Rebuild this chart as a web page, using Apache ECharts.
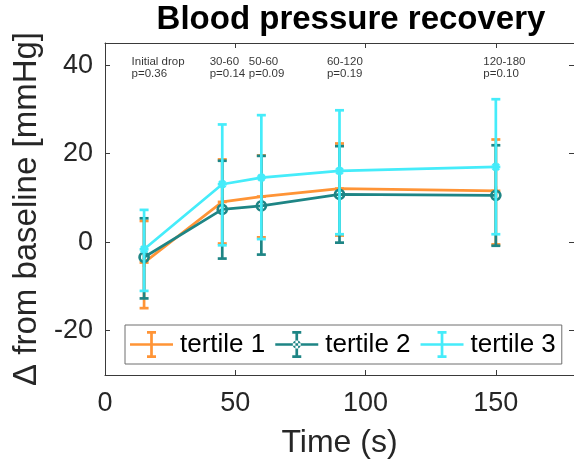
<!DOCTYPE html>
<html>
<head>
<meta charset="utf-8">
<script src="https://cdn.jsdelivr.net/npm/echarts@6/dist/echarts.min.js"></script>
<style>
  html, body { margin: 0; padding: 0; background: #fff; }
  #chart { width: 574px; height: 466px; }
</style>
</head>
<body>
<div id="chart"></div>
<script>
// Time points (s) at which the recovery was sampled
const times = [15, 45, 60, 90, 150];

// Tertile 1
const t1Mean  = [-4.6, 9.1, 10.3, 12.1, 11.6];
const t1Lower = [-14.9, -0.3, 1.1, 1.5, -0.5];
const t1Upper = [4.8, 18.7, 19.6, 22.3, 23.2];

// Tertile 2
const t2Mean  = [-3.4, 7.4, 8.2, 10.8, 10.6];
const t2Lower = [-12.7, -3.7, -2.8, -0.1, -0.8];
const t2Upper = [5.4, 18.4, 19.5, 21.7, 21.9];

// Tertile 3
const t3Mean  = [-1.6, 13.1, 14.6, 16.1, 17.0];
const t3Lower = [-11.0, -0.7, 0.7, 1.8, 1.8];
const t3Upper = [7.3, 26.6, 28.7, 29.8, 32.3];

const seriesNames = ['tertile 1', 'tertile 2', 'tertile 3'];

// Interval annotations with their p-values
const annotX = [10, 40, 55, 85, 145];
const annotY = [39.4, 39.4, 39.4, 39.4, 39.4];
const annotLabels = ['Initial drop', '30-60', '50-60', '60-120', '120-180'];
const annotP = ['p=0.36', 'p=0.14', 'p=0.09', 'p=0.19', 'p=0.10'];

// Axis ticks
const xTicks = [0, 50, 100, 150];
const yTicks = [-20, 0, 20, 40];

const FONT = '"Liberation Sans", Arial, Helvetica, sans-serif';
const AXIS_COLOR = '#3a3a3a';
const colors = ['#FF9436', '#1E8585', '#45ECFA'];
const markers = ['plus', 'circle', 'star'];
const LW = 2.7;

function pts(mean) { return times.map((t, i) => [t, mean[i]]); }
function errData(mean, lo, hi) { return times.map((t, i) => [t, mean[i], lo[i], hi[i]]); }

function errorBarRenderer(color, marker) {
  return function (params, api) {
    const x = api.value(0);
    const pm = api.coord([x, api.value(1)]);
    const plo = api.coord([x, api.value(2)]);
    const phi = api.coord([x, api.value(3)]);
    const cap = 4.5;
    const st = { stroke: color, lineWidth: LW, fill: 'none' };
    const children = [
      { type: 'line', shape: { x1: plo[0], y1: plo[1], x2: phi[0], y2: phi[1] }, style: st },
      { type: 'line', shape: { x1: plo[0] - cap, y1: plo[1], x2: plo[0] + cap, y2: plo[1] }, style: st },
      { type: 'line', shape: { x1: phi[0] - cap, y1: phi[1], x2: phi[0] + cap, y2: phi[1] }, style: st }
    ];
    const r = 4.5;
    if (marker === 'circle') {
      children.push({ type: 'circle', shape: { cx: pm[0], cy: pm[1], r: r }, style: st });
    } else {
      children.push({ type: 'line', shape: { x1: pm[0] - r, y1: pm[1], x2: pm[0] + r, y2: pm[1] }, style: st });
      children.push({ type: 'line', shape: { x1: pm[0], y1: pm[1] - r, x2: pm[0], y2: pm[1] + r }, style: st });
      if (marker === 'star') {
        const d = r * 0.7;
        children.push({ type: 'line', shape: { x1: pm[0] - d, y1: pm[1] - d, x2: pm[0] + d, y2: pm[1] + d }, style: st });
        children.push({ type: 'line', shape: { x1: pm[0] - d, y1: pm[1] + d, x2: pm[0] + d, y2: pm[1] - d }, style: st });
      }
    }
    return { type: 'group', children: children };
  };
}

// Legend glyph: horizontal line crossed by an error bar with caps
const errIcon = 'path://M0 12.15H43V14.85H0Z M20.15 0H22.85V27H20.15Z M17 0H26V2.7H17Z M17 24.3H26V27H17Z';
const circleIcon = errIcon + ' M17.5 13.5A4 4 0 1 0 25.5 13.5A4 4 0 1 0 17.5 13.5Z';
const legendIcons = [errIcon, circleIcon, errIcon];

const groups = [
  [t1Mean, t1Lower, t1Upper],
  [t2Mean, t2Lower, t2Upper],
  [t3Mean, t3Lower, t3Upper]
];

const series = [];
groups.forEach(function (g, k) {
  series.push({
    name: seriesNames[k],
    type: 'line',
    xAxisIndex: 0, yAxisIndex: 0,
    data: pts(g[0]),
    showSymbol: false,
    symbol: 'none',
    lineStyle: { color: colors[k], width: LW },
    itemStyle: { color: colors[k] },
    silent: true,
    z: 2 + k
  });
  series.push({
    name: seriesNames[k],
    type: 'custom',
    xAxisIndex: 0, yAxisIndex: 0,
    data: errData(g[0], g[1], g[2]),
    encode: { x: 0, y: [1, 2, 3] },
    renderItem: errorBarRenderer(colors[k], markers[k]),
    itemStyle: { color: colors[k] },
    silent: true,
    z: 2 + k
  });
});

series.push({
  type: 'scatter',
  xAxisIndex: 0, yAxisIndex: 0,
  data: annotX.map((x, i) => ({ value: [x, annotY[i]], label: { formatter: annotLabels[i] + '\n' + annotP[i] } })),
  symbolSize: 1,
  itemStyle: { color: 'rgba(0,0,0,0)' },
  silent: true,
  label: {
    show: true,
    position: 'right',
    distance: 0,
    color: '#000',
    fontFamily: FONT,
    fontSize: 11.5,
    lineHeight: 12.5
  },
  z: 10
});

const tickStyle = { show: true, inside: true, length: 5, lineStyle: { color: AXIS_COLOR, width: 1 } };
const lineStyle = { show: true, onZero: false, lineStyle: { color: AXIS_COLOR, width: 1 } };

const option = {
  animation: false,
  backgroundColor: '#fff',
  title: {
    text: 'Blood pressure recovery',
    left: 351,
    textAlign: 'center',
    top: 3,
    padding: 0,
    textStyle: { fontFamily: FONT, fontSize: 33, fontWeight: 'bold', color: '#000' }
  },
  legend: {
    data: seriesNames.map((n, i) => ({ name: n, icon: legendIcons[i] })),
    left: 125,
    top: 325,
    orient: 'horizontal',
    padding: [6, 6, 6, 5],
    itemWidth: 43,
    itemHeight: 27,
    itemGap: 10,
    backgroundColor: '#fff',
    borderColor: '#6e6e6e',
    borderWidth: 1,
    borderRadius: 0,
    selectedMode: false,
    textStyle: { fontFamily: FONT, fontSize: 26, color: '#000', padding: [0, 0, 0, 2] }
  },
  grid: { left: 105, top: 43, width: 471, height: 332, containLabel: false },
  xAxis: [{
    type: 'value', min: 0, max: 180, position: 'bottom',
    axisLine: lineStyle,
    axisTick: Object.assign({ customValues: xTicks }, tickStyle),
    axisLabel: { customValues: xTicks, margin: 15, fontFamily: FONT, fontSize: 27, color: '#262626' },
    splitLine: { show: false },
    name: 'Time (s)', nameLocation: 'middle', nameGap: 52,
    nameTextStyle: { fontFamily: FONT, fontSize: 32, color: '#262626' }
  }, {
    type: 'value', min: 0, max: 180, position: 'top',
    axisLine: lineStyle,
    axisTick: Object.assign({ customValues: xTicks }, tickStyle),
    axisLabel: { show: false },
    splitLine: { show: false }
  }],
  yAxis: [{
    type: 'value', min: -30, max: 45, position: 'left',
    axisLine: lineStyle,
    axisTick: Object.assign({ customValues: yTicks }, tickStyle),
    axisLabel: { customValues: yTicks, margin: 12, fontFamily: FONT, fontSize: 27, color: '#262626' },
    splitLine: { show: false },
    name: 'Δ from baseline [mmHg]', nameLocation: 'middle', nameGap: 57,
    nameTextStyle: { fontFamily: FONT, fontSize: 33, color: '#262626' }
  }, {
    type: 'value', min: -30, max: 45, position: 'right',
    axisLine: lineStyle,
    axisTick: Object.assign({ customValues: yTicks }, tickStyle),
    axisLabel: { show: false },
    splitLine: { show: false }
  }],
  series: series
};

const chart = echarts.init(document.getElementById('chart'), null, { renderer: 'canvas' });
chart.setOption(option);
</script>
</body>
</html>
